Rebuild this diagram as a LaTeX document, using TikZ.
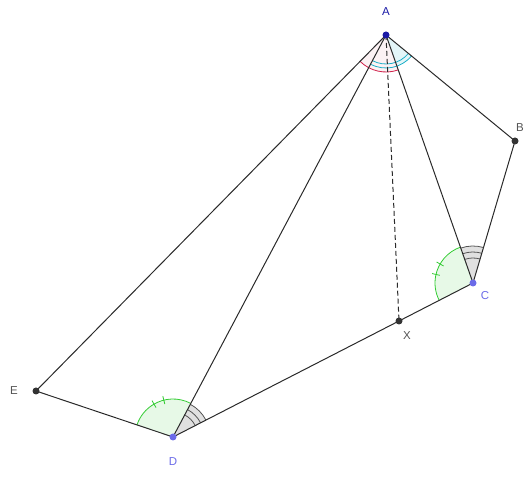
\documentclass[tikz,border=0pt]{standalone}
\usepackage{fontspec}
\setsansfont{Liberation Sans}
\usetikzlibrary{calc}
\definecolor{segc}{HTML}{2A2A2A}
\definecolor{ptdark}{HTML}{333333}
\definecolor{ptblue}{HTML}{1A1AA6}
\definecolor{ptlight}{HTML}{6B6BE8}
\definecolor{angred}{HTML}{D0204A}
\definecolor{angcyan}{HTML}{1AAFC8}
\definecolor{anggreen}{HTML}{33CC33}
\definecolor{anggray}{HTML}{555555}
\tikzset{
  seg/.style={line width=1pt, draw=segc},
  pt/.style={circle, fill=#1, inner sep=0pt, minimum size=7pt},
  lbl/.style={font=\sffamily\fontsize{11.5}{13}\selectfont, text=#1, inner sep=1pt},
  arcmark/.style={line width=0.8pt, draw=#1},
}
\begin{document}
\begin{tikzpicture}[x=1pt,y=1pt]
    \useasboundingbox (0,0) rectangle (524,476);
    % points
    \coordinate (A) at (386,441);
    \coordinate (B) at (515,335);
    \coordinate (C) at (473,193);
    \coordinate (X) at (399,155);
    \coordinate (D) at (173,39);
    \coordinate (E) at (36,85);

    % angle fills
    \fill[angcyan!12] (A) -- ++(242.1:33pt) arc[start angle=242.1, end angle=320.6, radius=33pt] -- cycle;
    \fill[angred!6] (A) -- ++(225.5:37pt) arc[start angle=225.5, end angle=289.3, radius=37pt] -- cycle;
    \fill[anggreen!12] (C) -- ++(109.3:38pt) arc[start angle=109.3, end angle=207.2, radius=38pt] -- cycle;
    \fill[black!12] (C) -- ++(73.5:37pt) arc[start angle=73.5, end angle=109.3, radius=37pt] -- cycle;
    \fill[anggreen!12] (D) -- ++(62.1:38pt) arc[start angle=62.1, end angle=161.4, radius=38pt] -- cycle;
    \fill[black!12] (D) -- ++(27.2:37pt) arc[start angle=27.2, end angle=62.1, radius=37pt] -- cycle;

    % angle arcs at A
    \draw[arcmark=angred] ($(A)+(225.5:37pt)$) arc[start angle=225.5, end angle=289.3, radius=37pt];
    \foreach \r in {29,33} {
        \draw[arcmark=angcyan] ($(A)+(242.1:\r pt)$) arc[start angle=242.1, end angle=320.6, radius=\r pt];
    }
    % green angles with ticks
    \draw[arcmark=anggreen] ($(C)+(109.3:38pt)$) arc[start angle=109.3, end angle=207.2, radius=38pt];
    \draw[arcmark=anggreen] ($(D)+(62.1:38pt)$) arc[start angle=62.1, end angle=161.4, radius=38pt];
    \foreach \a in {150,167} {
        \draw[arcmark=anggreen] ($(C)+(\a:34pt)$) -- ($(C)+(\a:42pt)$);
    }
    \foreach \a in {104,120} {
        \draw[arcmark=anggreen] ($(D)+(\a:34pt)$) -- ($(D)+(\a:42pt)$);
    }
    % gray angles, three arcs
    \foreach \r in {25,31,37} {
        \draw[arcmark=anggray] ($(C)+(73.5:\r pt)$) arc[start angle=73.5, end angle=109.3, radius=\r pt];
        \draw[arcmark=anggray] ($(D)+(27.2:\r pt)$) arc[start angle=27.2, end angle=62.1, radius=\r pt];
    }

    % segments
    \draw[seg] (A) -- (B) -- (C) -- (X) -- (D) -- (E) -- (A);
    \draw[seg] (A) -- (D);
    \draw[seg] (A) -- (C);
    \draw[seg, dashed, dash pattern=on 5pt off 3pt] (A) -- (X);

    % point marks
    \node[pt=ptblue] (pA) at (A) {};
    \node[pt=ptdark] (pB) at (B) {};
    \node[pt=ptlight] (pC) at (C) {};
    \node[pt=ptdark] (pX) at (X) {};
    \node[pt=ptlight] (pD) at (D) {};
    \node[pt=ptdark] (pE) at (E) {};

    % labels
    \node[lbl=ptblue] (lA) at (386,464) {A};
    \node[lbl=anggray, anchor=east, inner sep=0pt] (lB) at (524,348) {B};
    \node[lbl=ptlight] (lC) at (485,180) {C};
    \node[lbl=anggray] (lX) at (407,140) {X};
    \node[lbl=ptlight] (lD) at (173,14) {D};
    \node[lbl=anggray] (lE) at (14,85) {E};
\end{tikzpicture}
\end{document}
